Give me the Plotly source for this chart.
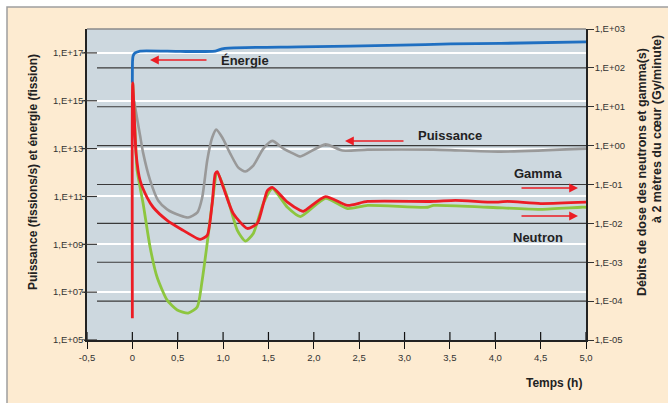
import plotly.graph_objects as go

# ---------------- data ----------------
# Energie (fissions, left axis)
t_energie = [0.0, 0.002, 0.008, 0.03, 0.085, 0.527, 0.914, 0.99, 1.06, 1.85, 2.96, 3.51, 4.06, 5.0]
energie = [5.6e15, 4.7e16, 7.5e16, 1.0e17, 1.2e17, 1.15e17, 1.2e17, 1.48e17, 1.6e17, 1.8e17, 2.1e17, 2.4e17, 2.5e17, 2.9e17]

# Puissance (fissions/s, left axis)
t_puissance = [0.019, 0.052, 0.085, 0.118, 0.196, 0.284, 0.383, 0.527, 0.615, 0.715, 0.770, 0.825, 0.880,
               0.925, 0.991, 1.079, 1.168, 1.245, 1.333, 1.444, 1.543, 1.665, 1.775, 1.852, 2.128, 2.316,
               2.592, 3.32, 4.06, 5.0]
puissance = [1.0e15, 1.8e14, 3.5e13, 6.8e12, 4.7e11, 6.8e10, 2.9e10, 1.6e10, 1.33e10, 2.1e10, 9.1e10, 3.2e12, 2.9e13,
             6.2e13, 2.9e13, 6.2e12, 1.6e12, 1.1e12, 1.95e12, 1.0e13, 2.1e13, 1.0e13, 6.2e12, 4.7e12, 1.5e13, 8.3e12,
             9.1e12, 9.1e12, 7.5e12, 1.0e13]

# Gamma dose rate (Gy/minute, right axis) - red
t_gamma = [0.0, 0.004, 0.041, 0.085, 0.163, 0.229, 0.383, 0.560, 0.715, 0.748, 0.825, 0.880, 0.914, 0.936,
           1.003, 1.112, 1.267, 1.377, 1.488, 1.543, 1.709, 1.852, 1.885, 2.128, 2.371, 2.592, 3.32, 3.56,
           3.98, 4.14, 4.50, 5.0]
gamma = [3.6e-5, 41, 0.62, 0.127, 0.046, 0.026, 0.012, 0.0066, 0.0041, 0.0039, 0.0049, 0.033, 0.19, 0.215,
         0.084, 0.018, 0.0074, 0.010, 0.070, 0.084, 0.035, 0.0215, 0.0204, 0.049, 0.029, 0.0366, 0.0366, 0.039,
         0.035, 0.0366, 0.0324, 0.035]

# Neutron dose rate (Gy/minute, right axis) - green
t_neutron = [0.004, 0.041, 0.052, 0.118, 0.196, 0.273, 0.383, 0.494, 0.615, 0.715, 0.770, 0.825, 0.880, 0.936,
             1.046, 1.157, 1.245, 1.333, 1.444, 1.543, 1.709, 1.852, 2.128, 2.371, 2.592, 3.255, 3.32, 3.917,
             4.50, 4.945, 5.0]
neutron = [41, 0.62, 0.23, 0.033, 0.0024, 4.1e-4, 1.06e-4, 5.9e-5, 4.9e-5, 7.1e-5, 3.5e-4, 0.0031, 0.033, 0.204,
           0.047, 0.0066, 0.0035, 0.0055, 0.033, 0.079, 0.026, 0.015, 0.044, 0.024, 0.029, 0.026, 0.029, 0.026,
           0.023, 0.026, 0.026]

x_ticks = [-0.5, 0, 0.5, 1.0, 1.5, 2.0, 2.5, 3.0, 3.5, 4.0, 4.5, 5.0]
x_ticktext = ["-0,5", "0", "0,5", "1,0", "1,5", "2,0", "2,5", "3,0", "3,5", "4,0", "4,5", "5,0"]
left_ticks = [1e5, 1e7, 1e9, 1e11, 1e13, 1e15, 1e17]
left_ticktext = ["1,E+05", "1,E+07", "1,E+09", "1,E+11", "1,E+13", "1,E+15", "1,E+17"]
right_ticks = [1e3, 1e2, 1e1, 1e0, 1e-1, 1e-2, 1e-3, 1e-4, 1e-5]
right_ticktext = ["1,E+03", "1,E+02", "1,E+01", "1,E+00", "1,E-01", "1,E-02", "1,E-03", "1,E-04", "1,E-05"]

# ---------------- layout geometry ----------------
W, H = 668, 403
L, R, T, B = 87, 586, 29, 340
PW, PH = R - L, B - T


def px(x):
    return (x - L) / PW


def py(y):
    return (B - y) / PH


PEACH = "#FDEBD1"
PLOTBG = "#CDD8DF"
FONT = "Liberation Sans, Arial, sans-serif"
TXT = "#222222"

fig = go.Figure()

spl = dict(shape="spline", smoothing=0.6)
fig.add_trace(go.Scatter(x=t_puissance, y=puissance, mode="lines", name="Puissance", yaxis="y",
                         line=dict(color="#999999", width=2.6, **spl)))
fig.add_trace(go.Scatter(x=t_energie, y=energie, mode="lines", name="Énergie", yaxis="y",
                         line=dict(color="#1F6FC1", width=2.8, **spl)))
fig.add_trace(go.Scatter(x=t_neutron, y=neutron, mode="lines", name="Neutron", yaxis="y2",
                         line=dict(color="#8DC63F", width=2.8, **spl)))
fig.add_trace(go.Scatter(x=t_gamma, y=gamma, mode="lines", name="Gamma", yaxis="y2",
                         line=dict(color="#EC1C24", width=2.8, **spl)))

shapes = []
# outer panel
shapes.append(dict(type="rect", xref="paper", yref="paper", x0=px(7), x1=px(700), y0=py(430), y1=py(7),
                   fillcolor=PEACH, line=dict(color="#9E9E9E", width=1.5), layer="below"))
# plot background
shapes.append(dict(type="rect", xref="paper", yref="paper", x0=0, x1=1, y0=0, y1=1,
                   fillcolor=PLOTBG, line=dict(width=0), layer="below"))
# top border of plot area
shapes.append(dict(type="line", xref="paper", yref="paper", x0=0, x1=1, y0=1, y1=1,
                   line=dict(color="#8A8A8A", width=1.5), layer="above"))
# dark grid lines for right axis
for v in right_ticks[1:-1]:
    shapes.append(dict(type="line", xref="paper", yref="y2", x0=px(97), x1=1, y0=v, y1=v,
                       line=dict(color="#3A3A3A", width=1.2), layer="below"))
# inside parts of ticks
for v in x_ticks:
    shapes.append(dict(type="line", xref="x", yref="paper", x0=v, x1=v, y0=0, y1=py(332),
                       line=dict(color="#111111", width=1.2), layer="above"))
for v in left_ticks:
    shapes.append(dict(type="line", xref="paper", yref="y", x0=px(82), x1=px(97), y0=v, y1=v,
                       line=dict(color="#333333", width=1.2), layer="above"))

annotations = []


def label(text, x, y, size=13, angle=0):
    annotations.append(dict(text=text, xref="paper", yref="paper", x=px(x), y=py(y),
                            xanchor="center", yanchor="middle", showarrow=False, textangle=angle,
                            font=dict(family=FONT, size=size, color=TXT, weight="bold")))


def arrow(x_head, x_tail, y):
    annotations.append(dict(text="", xref="paper", yref="paper", x=px(x_head), y=py(y),
                            ax=x_tail - x_head, ay=0, axref="pixel", ayref="pixel",
                            showarrow=True, arrowhead=2, arrowsize=1.1, arrowwidth=1.6,
                            arrowcolor="#EC1C24", standoff=0))


label("Énergie", 245, 61)
arrow(150, 208, 60)
label("Puissance", 450, 135)
arrow(345, 405, 141)
label("Gamma", 538, 173)
arrow(578, 520, 188)
label("Neutron", 538, 237)
arrow(578, 520, 216)

label("Puissance (fissions/s) et énergie (fission)", 33, 172, size=12, angle=-90)
label("Débits de dose des neutrons et gamma(s)", 642, 172, size=12.5, angle=-90)
label("à 2 mètres du cœur (Gy/minute)", 657, 129, size=12.5, angle=-90)
label("Temps (h)", 554, 383, size=12)

tickfont = dict(family=FONT, size=9.5, color="#333333")

fig.update_layout(
    width=W, height=H,
    margin=dict(l=L, r=W - R, t=T, b=H - B, pad=0),
    paper_bgcolor="white",
    plot_bgcolor="rgba(0,0,0,0)",
    showlegend=False,
    shapes=shapes,
    annotations=annotations,
    xaxis=dict(range=[-0.5, 5.0], tickvals=x_ticks, ticktext=x_ticktext, ticks="outside", ticklen=7,
               tickcolor="#111111", tickwidth=1.2, showgrid=False, zeroline=False, showline=True,
               linecolor="#222222", linewidth=1.5, tickfont=tickfont, ticklabelstandoff=1),
    yaxis=dict(type="log", range=[5, 18], tickvals=left_ticks, ticktext=left_ticktext, ticks="outside",
               ticklen=1, tickcolor="#333333", tickwidth=1.2, showgrid=True, gridcolor="white",
               gridwidth=1.5, zeroline=False, showline=True, linecolor="#222222", linewidth=1.5,
               tickfont=tickfont, ticklabelstandoff=-1),
    yaxis2=dict(type="log", range=[-5, 3], overlaying="y", side="right", tickvals=right_ticks,
                ticktext=right_ticktext, ticks="outside", ticklen=6, tickcolor="#333333", tickwidth=1.2,
                showgrid=False, zeroline=False, showline=True, linecolor="#222222", linewidth=1.5,
                tickfont=tickfont, ticklabelstandoff=-1),
)

fig.write_html("out.html")
